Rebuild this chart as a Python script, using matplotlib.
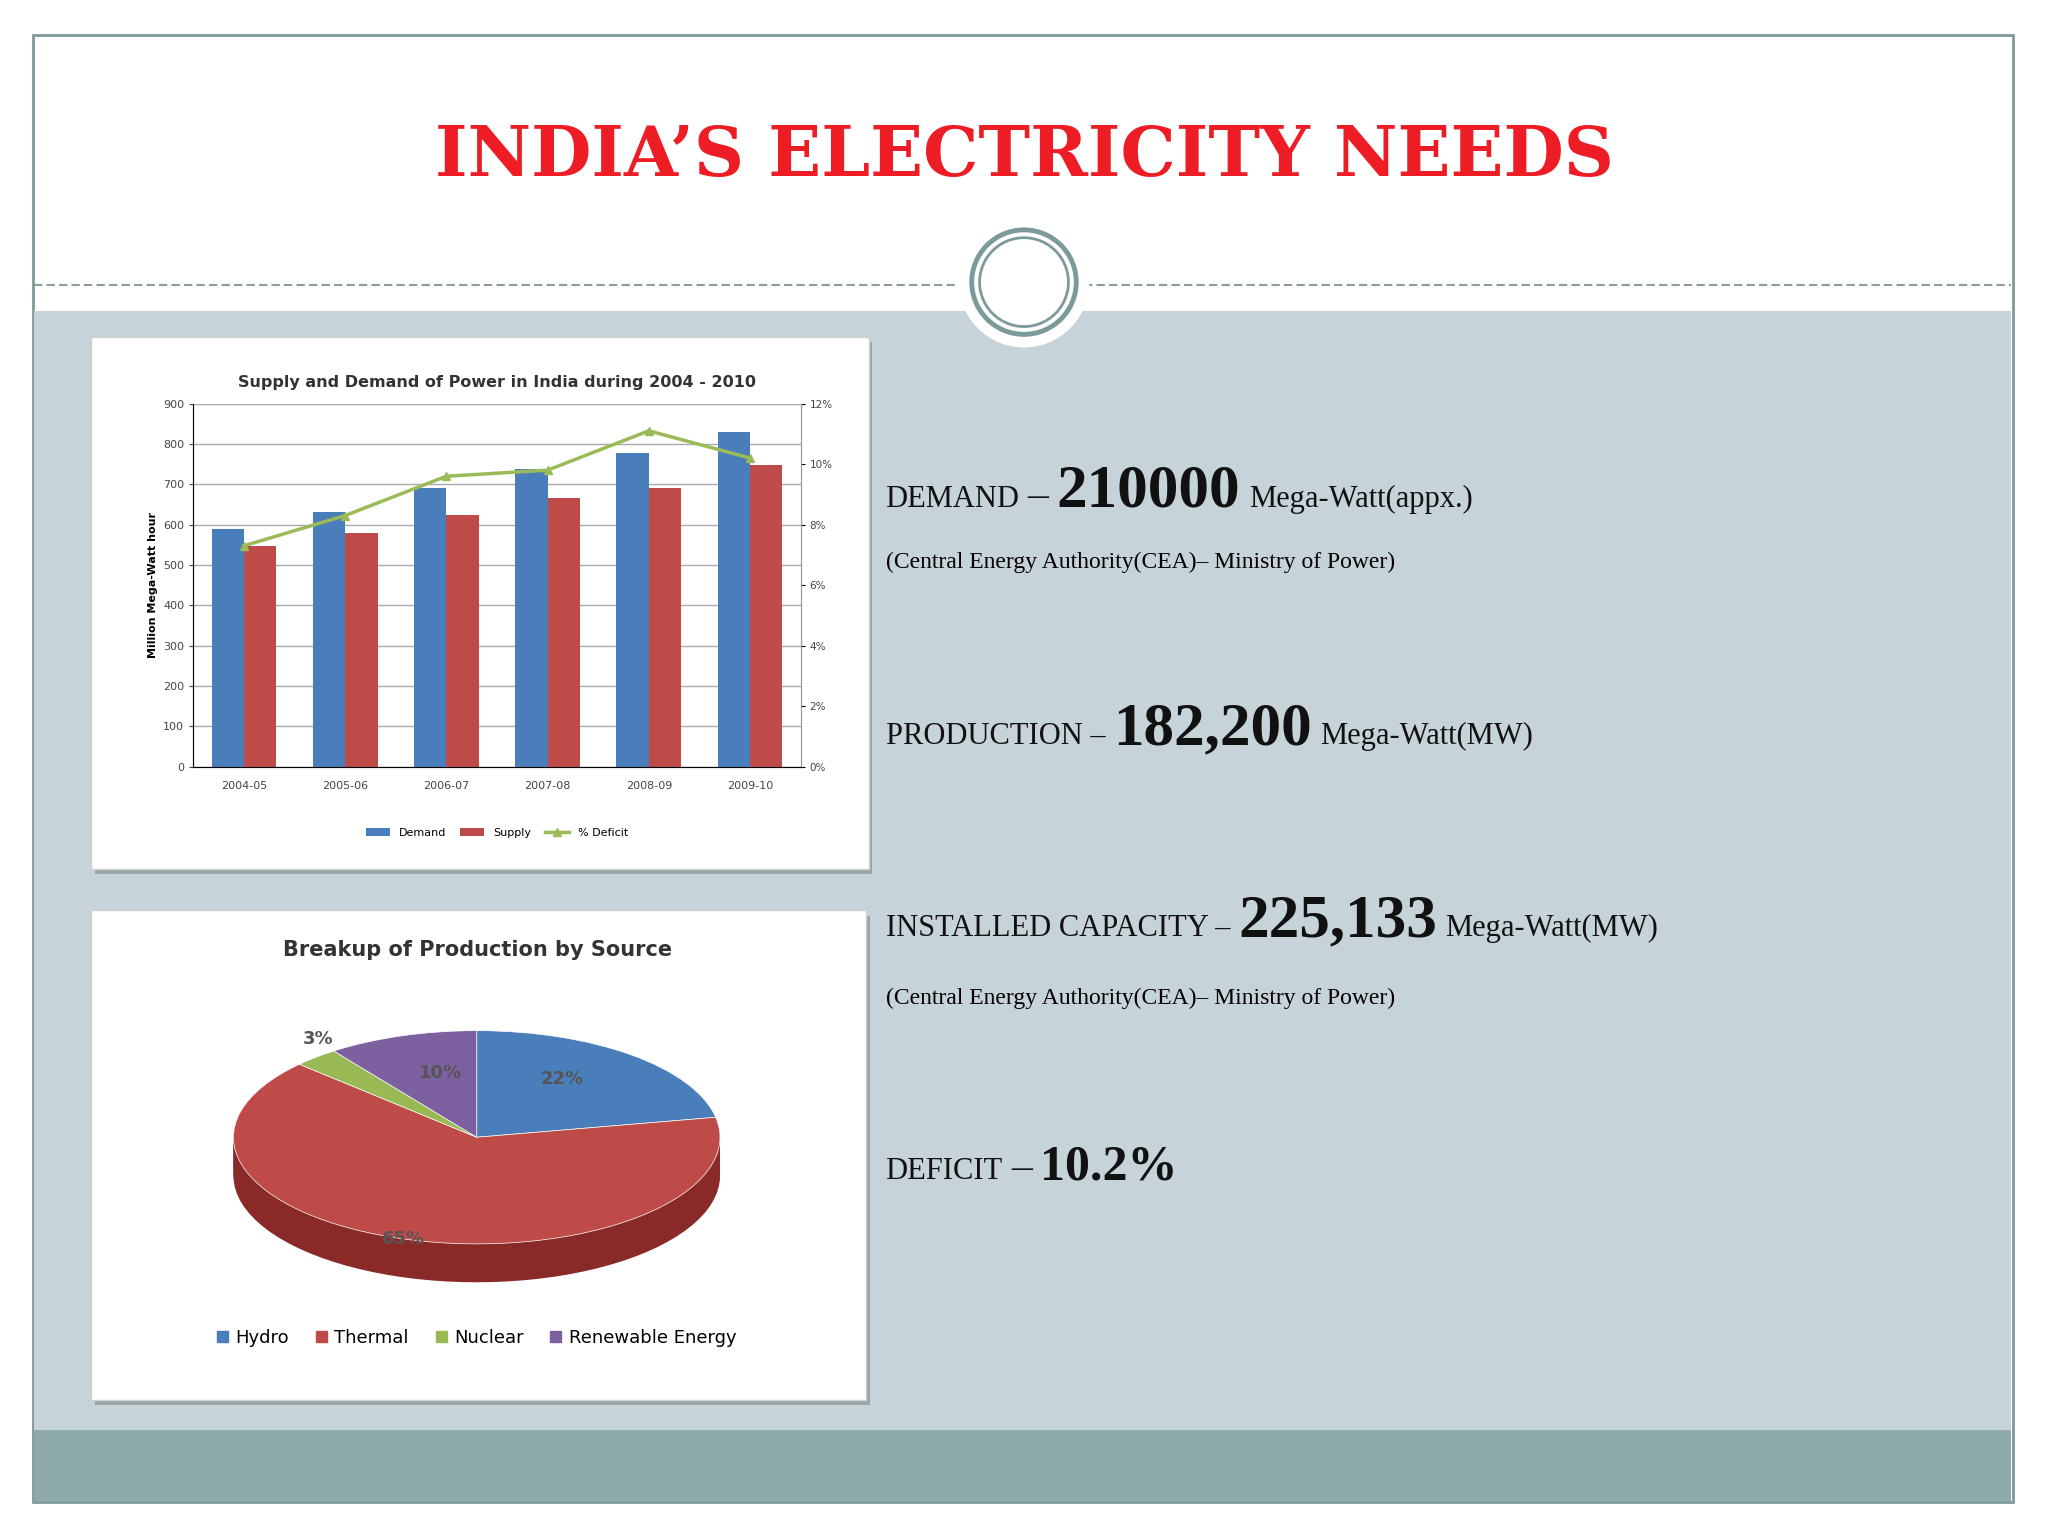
import matplotlib
matplotlib.use("Agg")
import matplotlib.pyplot as plt
from matplotlib.patches import Rectangle, Ellipse, Patch
from matplotlib.lines import Line2D
import numpy as np

years = ["2004-05", "2005-06", "2006-07", "2007-08", "2008-09", "2009-10"]
demand = [590, 632, 692, 737, 778, 830]
supply = [548, 580, 625, 665, 690, 747]
deficit = [7.3, 8.3, 9.6, 9.8, 11.1, 10.2]

sources = ["Hydro", "Thermal", "Nuclear", "Renewable Energy"]
shares = [22, 65, 3, 10]
pie_colors = ["#4a7ebb", "#be4b48", "#98b954", "#7d60a0"]
dark_colors = ["#2f5a8f", "#8a2a28", "#6f8a35", "#5a417a"]

W, H = 1568, 1176
fig = plt.figure(figsize=(20.48, 15.36), dpi=100)

def fx(x): return x / W
def fy(y): return 1 - y / H

fig.patches.append(Rectangle((fx(25), fy(1150)), fx(1541) - fx(25), fy(27) - fy(1150),
                             transform=fig.transFigure, facecolor="white", edgecolor="#7d9a9a", lw=2, zorder=0))
fig.patches.append(Rectangle((fx(26), fy(1095)), fx(1540) - fx(26), fy(238) - fy(1095),
                             transform=fig.transFigure, facecolor="#c6d3d8", edgecolor="none", zorder=1))
fig.patches.append(Rectangle((fx(26), fy(1149)), fx(1540) - fx(26), fy(1095) - fy(1149),
                             transform=fig.transFigure, facecolor="#8eaaaa", edgecolor="none", zorder=1))
fig.lines.append(Line2D([fx(26), fx(1540)], [fy(218), fy(218)], transform=fig.transFigure,
                        color="#8a9ea0", ls=(0, (4, 2)), lw=1.5, zorder=2))
cx, cy = fx(784), fy(216)
for r, fc, ec, lw in [(50, "white", "none", 0), (40, "white", "#7d9a9a", 3.5), (34, "white", "#7d9a9a", 2)]:
    fig.patches.append(Ellipse((cx, cy), 2 * r / W, 2 * r / H, transform=fig.transFigure,
                               facecolor=fc, edgecolor=ec, lw=lw, zorder=3))

fig.text(0.5, fy(120), "INDIA’S ELECTRICITY NEEDS", ha="center", va="center",
         fontsize=50, color="#ee1c24", fontweight="bold", family="DejaVu Serif", zorder=5)

for (x0, y0, x1, y1) in [(70, 258, 665, 665), (70, 697, 663, 1072)]:
    fig.patches.append(Rectangle((fx(x0 + 3), fy(y1 + 4)), fx(x1) - fx(x0), fy(y0) - fy(y1),
                                 transform=fig.transFigure, facecolor="#9aa5a8", edgecolor="none", zorder=2))
    fig.patches.append(Rectangle((fx(x0), fy(y1)), fx(x1) - fx(x0), fy(y0) - fy(y1),
                                 transform=fig.transFigure, facecolor="white", edgecolor="#d0d0d0", lw=1, zorder=3))

ax = fig.add_axes([fx(148), fy(587), fx(613) - fx(148), fy(309) - fy(587)], zorder=6)
x = np.arange(len(years))
w = 0.32
ax.bar(x - w / 2, demand, w, color="#4a7ebb", label="Demand", zorder=3)
ax.bar(x + w / 2, supply, w, color="#be4b48", label="Supply", zorder=3)
ax.set_ylim(0, 900)
ax.set_yticks(range(0, 901, 100))
ax.set_xlim(-0.5, 5.5)
ax.set_xticks(x)
ax.set_xticklabels(years, fontsize=8, color="#444")
ax.tick_params(axis="y", labelsize=8, colors="#444", length=3)
ax.tick_params(axis="x", length=0, pad=10)
ax.grid(axis="y", color="#aaaaaa", lw=1, zorder=0)
ax.spines["top"].set_visible(False)
for s in ["right", "left", "bottom"]:
    ax.spines[s].set_color("#999")
ax.set_ylabel("Million Mega-Watt hour", fontsize=8, fontweight="bold")
ax.set_title("Supply and Demand of Power in India during 2004 - 2010", fontsize=11.5,
             fontweight="bold", color="#333", pad=12)
ax2 = ax.twinx()
ax2.plot(x, deficit, color="#9bbb59", lw=2.5, marker="^", ms=6, label="% Deficit", zorder=4)
ax2.set_ylim(0, 12)
ax2.set_yticks(range(0, 13, 2))
ax2.set_yticklabels([f"{v}%" for v in range(0, 13, 2)], fontsize=7.5, color="#444")
ax2.tick_params(length=3)
ax2.spines["top"].set_visible(False)
ax2.spines["right"].set_color("#999")
h1, l1 = ax.get_legend_handles_labels()
h2, l2 = ax2.get_legend_handles_labels()
ax.legend(h1 + h2, l1 + l2, loc="upper center", bbox_to_anchor=(0.5, -0.14), ncol=3,
          frameon=False, fontsize=8, handlelength=2.2, columnspacing=1.2)

fig.text(fx(366), fy(727), "Breakup of Production by Source", ha="center", va="center",
         fontsize=15, fontweight="bold", color="#333", zorder=7)
axp = fig.add_axes([fx(175), fy(985), fx(555) - fx(175), fy(785) - fy(985)], zorder=6)
for k in range(12, 0, -1):
    axp.pie(shares, colors=dark_colors, startangle=90, counterclock=False,
            center=(0, -0.03 * k), radius=1, wedgeprops=dict(lw=0))
axp.pie(shares, colors=pie_colors, startangle=90, counterclock=False,
        center=(0, 0), radius=1, wedgeprops=dict(lw=0.5, edgecolor="white"))
axp.set_aspect("auto")
axp.set_xlim(-1.02, 1.02)
axp.set_ylim(-1.4, 1.05)
axp.axis("off")
lbl_pos = [(0.35, 0.55), (-0.3, -0.95), (-0.65, 0.92), (-0.15, 0.6)]
for (px, py), s in zip(lbl_pos, shares):
    axp.text(px, py, f"{s}%", ha="center", va="center", fontsize=13, fontweight="bold", color="#555")
axp.legend([Patch(color=c) for c in pie_colors], sources, loc="upper center",
           bbox_to_anchor=(0.5, -0.1), ncol=4, frameon=False, fontsize=13,
           handlelength=0.6, handleheight=0.6, columnspacing=1.5, handletextpad=0.4)

serif = "Liberation Serif"
def line(y, parts):
    xx = fx(678)
    r = fig.canvas.get_renderer()
    for txt, size in parts:
        t = fig.text(xx, fy(y), txt, fontsize=size, family=serif, va="baseline", color="#111",
                     fontweight="bold" if size > 30 else "normal", zorder=7)
        bb = t.get_window_extent(renderer=r)
        xx += bb.width / fig.bbox.width + 0.004

line(388, [("DEMAND", 22), ("–", 30), ("210000", 44), ("Mega-Watt(appx.)", 22)])
fig.text(fx(678), fy(435), "(Central Energy Authority(CEA)– Ministry of Power)", fontsize=17, family=serif, va="baseline", zorder=7)
line(570, [("PRODUCTION –", 22), ("182,200", 44), ("Mega-Watt(MW)", 22)])
line(717, [("INSTALLED CAPACITY –", 22), ("225,133", 44), ("Mega-Watt(MW)", 22)])
fig.text(fx(678), fy(769), "(Central Energy Authority(CEA)– Ministry of Power)", fontsize=17, family=serif, va="baseline", zorder=7)
line(903, [("DEFICIT", 22), ("–", 30), ("10.2%", 36)])

fig.savefig("out.png", dpi=100)
